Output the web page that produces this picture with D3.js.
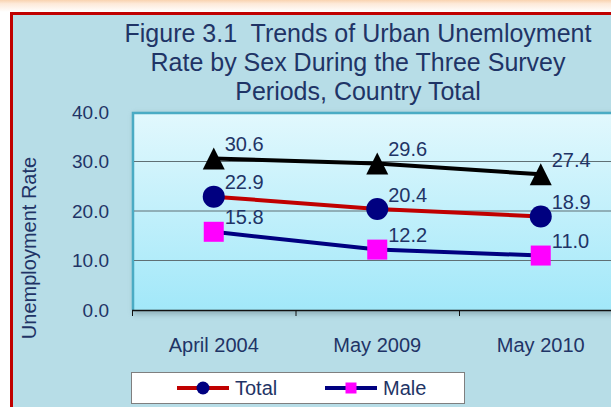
<!DOCTYPE html>
<html>
<head>
<meta charset="utf-8">
<script src="https://cdn.jsdelivr.net/npm/d3@7"></script>
<style>
  body { margin: 0; background: #fff; }
  text { font-family: "Liberation Sans", Arial, sans-serif; fill: #1f3466; white-space: pre; }
</style>
</head>
<body>
<script>
const categories = ['April 2004', 'May 2009', 'May 2010'];
const femaleValues = [30.6, 29.6, 27.4];
const totalValues = [22.9, 20.4, 18.9];
const maleValues = [15.8, 12.2, 11.0];
const yTicks = [0, 10, 20, 30, 40];
const titleLines = ['Figure 3.1  Trends of Urban Unemloyment', 'Rate by Sex During the Three Survey', 'Periods, Country Total'];
const legendNames = ['Total', 'Male'];

const width = 611, height = 407;
const plot = { left: 132, top: 112, bottom: 310, band: 163.5 };

const svg = d3.select('body').append('svg').attr('width', width).attr('height', height);
const defs = svg.append('defs');

const grad = defs.append('linearGradient').attr('id', 'plotFill').attr('x1', 0).attr('y1', 0).attr('x2', 0).attr('y2', 1);
grad.append('stop').attr('offset', '0%').attr('stop-color', '#e2f8fd');
grad.append('stop').attr('offset', '100%').attr('stop-color', '#a2e8f9');

const topGrad = defs.append('linearGradient').attr('id', 'topFill').attr('x1', 0).attr('y1', 0).attr('x2', 0).attr('y2', 1);
topGrad.append('stop').attr('offset', '0%').attr('stop-color', '#f9d3b0');
topGrad.append('stop').attr('offset', '30%').attr('stop-color', '#fde9d8');
topGrad.append('stop').attr('offset', '100%').attr('stop-color', '#ffffff');

defs.append('filter').attr('id', 'blur').append('feGaussianBlur').attr('stdDeviation', 2.5);

// page strip + chart area
svg.append('rect').attr('x', 0).attr('y', 0).attr('width', width).attr('height', 12).attr('fill', 'url(#topFill)');
svg.append('rect').attr('x', 10).attr('y', 12).attr('width', width - 10).attr('height', height - 12).attr('fill', '#b7dde7');
svg.append('line').attr('x1', 10).attr('x2', width).attr('y1', 13.5).attr('y2', 13.5).attr('stroke', '#c00000').attr('stroke-width', 3);
svg.append('line').attr('x1', 11.5).attr('x2', 11.5).attr('y1', 12).attr('y2', height).attr('stroke', '#c00000').attr('stroke-width', 3);

// title
svg.append('g').selectAll('text').data(titleLines).join('text')
    .attr('x', 358).attr('y', (d, i) => 42 + i * 29)
    .attr('text-anchor', 'middle').attr('font-size', 25)
    .attr('xml:space', 'preserve')
    .text(d => d);

const x = d3.scaleBand().domain(categories).range([plot.left, plot.left + plot.band * categories.length]);
const y = d3.scaleLinear().domain([0, 40]).range([plot.bottom, plot.top]);
const cx = d => x(d) + x.bandwidth() / 2;

// plot shadow + plot area
svg.append('rect').attr('x', plot.left + 1).attr('y', plot.top + 1).attr('width', width).attr('height', plot.bottom - plot.top + 4)
    .attr('fill', '#7f9fa8').attr('opacity', 0.6).attr('filter', 'url(#blur)');
svg.append('rect').attr('x', plot.left).attr('y', plot.top).attr('width', width).attr('height', plot.bottom - plot.top)
    .attr('fill', 'url(#plotFill)');
svg.append('path').attr('d', `M${plot.left + 1},${plot.bottom}V${plot.top + 1}H${width}`)
    .attr('fill', 'none').attr('stroke', '#4aabc4').attr('stroke-width', 2.5);

// gridlines
svg.append('g').selectAll('line').data(yTicks.filter(d => d > 0 && d < 40)).join('line')
    .attr('x1', plot.left + 2).attr('x2', width).attr('y1', d => y(d)).attr('y2', d => y(d))
    .attr('stroke', '#5f6f74').attr('stroke-width', 1);

// y axis
const yAxis = d3.axisLeft(y).tickValues(yTicks).tickFormat(d3.format('.1f')).tickSize(0).tickPadding(23);
svg.append('g').attr('transform', `translate(${plot.left},0)`).call(yAxis)
    .call(g => g.select('.domain').remove())
    .selectAll('text').attr('font-size', 19).attr('font-family', null).attr('fill', null);

// x axis
const xAxis = d3.axisBottom(x).tickSize(0).tickPadding(28);
svg.append('g').attr('transform', `translate(0,${plot.bottom})`).call(xAxis)
    .call(g => g.select('.domain').remove())
    .selectAll('text').attr('font-size', 20).attr('font-family', null).attr('fill', null);
svg.append('line').attr('x1', plot.left).attr('x2', width).attr('y1', plot.bottom + 0.5).attr('y2', plot.bottom + 0.5)
    .attr('stroke', '#111').attr('stroke-width', 1.5);
svg.append('g').selectAll('line').data(categories).join('line')
    .attr('x1', d => x(d) + 0.5).attr('x2', d => x(d) + 0.5)
    .attr('y1', plot.bottom).attr('y2', plot.bottom + 6)
    .attr('stroke', '#111').attr('stroke-width', 1);

// axis title
svg.append('text').attr('transform', 'translate(36,248) rotate(-90)')
    .attr('text-anchor', 'middle').attr('font-size', 20).text('Unemployment Rate');

// series
const line = d3.line().x((d, i) => cx(categories[i])).y(d => y(d));
const series = [
  { values: femaleValues, stroke: '#000000', marker: 'triangle', fill: '#000000' },
  { values: totalValues, stroke: '#c00000', marker: 'circle', fill: '#000080' },
  { values: maleValues, stroke: '#000080', marker: 'square', fill: '#ff00ff' }
];

function drawMarker(g, type, fill, size) {
  if (type === 'circle') g.append('circle').attr('r', size / 2).attr('fill', fill);
  else if (type === 'square') g.append('rect').attr('x', -size / 2 + 1).attr('y', -size / 2 + 1).attr('width', size - 2).attr('height', size - 2).attr('fill', fill);
  else g.append('path').attr('d', `M0,${-size / 2}L${size / 2},${size / 2}L${-size / 2},${size / 2}Z`).attr('fill', fill);
}

series.forEach(s => {
  svg.append('path').attr('d', line(s.values)).attr('fill', 'none')
      .attr('stroke', s.stroke).attr('stroke-width', 4);
});
series.forEach(s => {
  s.values.forEach((v, i) => {
    const g = svg.append('g').attr('transform', `translate(${cx(categories[i])},${y(v)})`);
    drawMarker(g, s.marker, s.fill, 22);
    svg.append('text').attr('x', cx(categories[i]) + 11).attr('y', y(v) - 7.5)
        .attr('font-size', 20).text(d3.format('.1f')(v));
  });
});

// legend
const legend = svg.append('g').attr('transform', 'translate(131,372)');
legend.append('rect').attr('x', 0.5).attr('y', 0.5).attr('width', 333).attr('height', 31)
    .attr('fill', '#fff').attr('stroke', '#7f7f7f');
legendNames.forEach((name, i) => {
  const s = series[i + 1];
  const item = legend.append('g').attr('transform', `translate(${46 + i * 148},16)`);
  item.append('line').attr('x1', 0).attr('x2', 52).attr('stroke', s.stroke).attr('stroke-width', 4);
  const m = item.append('g').attr('transform', 'translate(26,0)');
  drawMarker(m, s.marker, s.fill, 13);
  item.append('text').attr('x', 58).attr('y', 7).attr('font-size', 20).text(name);
});
</script>
</body>
</html>
